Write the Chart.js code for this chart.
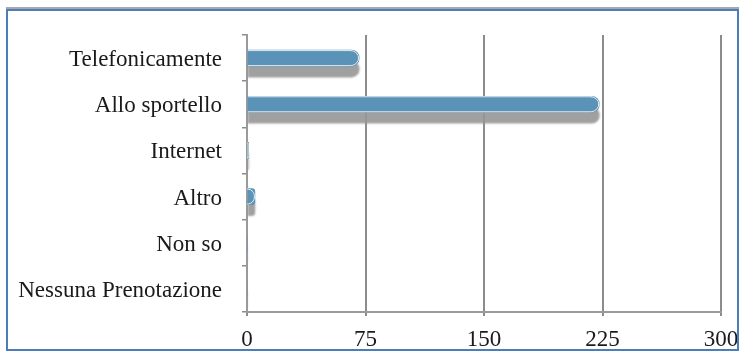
<!DOCTYPE html>
<html>
<head>
<meta charset="utf-8">
<script src="https://cdn.jsdelivr.net/npm/chart.js@4"></script>
<style>
html,body{margin:0;padding:0;background:#fff;}
#wrap{position:relative;width:741px;height:352px;}
#frame{position:absolute;left:6px;top:9px;width:729px;height:338px;border:2.5px solid #4a7ebb;box-shadow:0 -2px 0 #a8a8a8;pointer-events:none;}
</style>
</head>
<body>
<div id="wrap">
<canvas id="c" width="741" height="352"></canvas>
<div id="frame"></div>
</div>
<script>
const categories = ["Telefonicamente", "Allo sportello", "Internet", "Altro", "Non so", "Nessuna Prenotazione"];
const values = [71, 223, 1, 5, 0, 0];
const xTicks = [0, 75, 150, 225, 300];

const shadowPlugin = {
  id: 'barShadow',
  beforeDatasetDraw(chart) {
    const ctx = chart.ctx;
    ctx.save();
    ctx.shadowColor = 'rgba(150,150,150,0.9)';
    ctx.shadowOffsetY = 11;
    ctx.shadowOffsetX = 0;
    ctx.shadowBlur = 2;
  },
  afterDatasetDraw(chart) {
    const ctx = chart.ctx;
    ctx.restore();
    const meta = chart.getDatasetMeta(0);
    ctx.save();
    ctx.strokeStyle = 'rgba(235,243,248,0.9)';
    ctx.lineWidth = 1;
    meta.data.forEach(el => {
      const w = el.x - el.base;
      if (w <= 0.5) return;
      const h = el.height;
      const r = Math.min(8, w, h / 2);
      const x0 = el.base, y0 = el.y - h / 2, x1 = el.x, y1 = el.y + h / 2;
      ctx.beginPath();
      ctx.moveTo(x0, y0 + 0.5);
      ctx.lineTo(x1 - r, y0 + 0.5);
      ctx.arcTo(x1 - 0.5, y0 + 0.5, x1 - 0.5, y0 + r, r);
      ctx.lineTo(x1 - 0.5, y1 - r);
      ctx.arcTo(x1 - 0.5, y1 - 0.5, x1 - r, y1 - 0.5, r);
      ctx.lineTo(x0, y1 - 0.5);
      ctx.stroke();
    });
    ctx.restore();
  }
};

function barFill(context) {
  const chart = context.chart;
  const {ctx, chartArea} = chart;
  if (!chartArea) return '#5b93b8';
  const el = context.element;
  if (!el || el.y === undefined || !isFinite(el.y) || !el.height) return '#5b93b8';
  const h = el.height;
  const g = ctx.createLinearGradient(0, el.y - h / 2, 0, el.y + h / 2);
  g.addColorStop(0, '#7fb0cf');
  g.addColorStop(0.45, '#639bbf');
  g.addColorStop(1, '#5890b5');
  return g;
}

function noPad(scale) {
  scale.paddingLeft = 0;
  scale.paddingRight = 0;
  scale.paddingTop = 0;
  scale.paddingBottom = 0;
}

new Chart(document.getElementById('c'), {
  type: 'bar',
  data: {
    labels: categories,
    datasets: [{
      data: values,
      backgroundColor: barFill,
      borderWidth: 0,
      borderSkipped: 'start',
      borderRadius: {topLeft: 0, bottomLeft: 0, topRight: 8, bottomRight: 8},
      barThickness: 16
    }]
  },
  plugins: [shadowPlugin],
  options: {
    indexAxis: 'y',
    responsive: false,
    animation: false,
    events: [],
    layout: {padding: {top: 35, right: 20, left: 0, bottom: 0}},
    plugins: {legend: {display: false}, tooltip: {enabled: false}, title: {display: false}},
    scales: {
      x: {
        min: 0,
        max: 300,
        afterBuildTicks(scale) { scale.ticks = xTicks.map(v => ({value: v})); },
        afterFit(scale) { scale.height = 40; noPad(scale); },
        ticks: {
          color: '#1a1a1a',
          font: {family: '"Liberation Serif", "Times New Roman", serif', size: 23},
          padding: 10,
          maxRotation: 0
        },
        grid: {color: '#8c8c8c', lineWidth: 2, tickLength: 4, drawOnChartArea: true},
        border: {color: '#9a9a9a', width: 2}
      },
      y: {
        afterFit(scale) { scale.width = 247; noPad(scale); },
        ticks: {
          color: '#1a1a1a',
          font: {family: '"Liberation Serif", "Times New Roman", serif', size: 23},
          padding: 20,
          labelOffset: 2
        },
        grid: {offset: true, drawOnChartArea: false, color: '#8c8c8c', lineWidth: 1.5, tickLength: 5},
        border: {color: '#9a9a9a', width: 2}
      }
    }
  }
});
</script>
</body>
</html>
